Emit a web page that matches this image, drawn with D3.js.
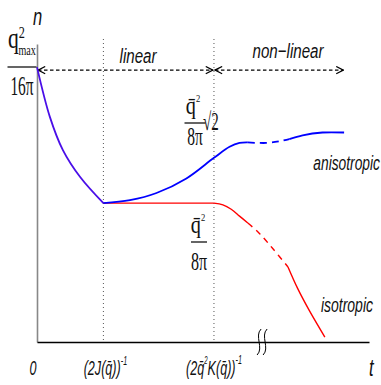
<!DOCTYPE html>
<html>
<head>
<meta charset="utf-8">
<script src="https://cdn.jsdelivr.net/npm/d3@7"></script>
<style>
  body { margin: 0; background: #fff; }
  text { fill: #111; }
  .sans { font-family: "Liberation Sans", Arial, sans-serif; font-style: italic; }
  .serif { font-family: "Liberation Serif", serif; }
</style>
</head>
<body>
<svg id="chart" width="381" height="385"></svg>
<script>
// time marks (t units) and the break on the time axis
var tTicks = [0, 20, 53.3]
var tBreak = 67.8

// anisotropic curve (blue)
var blueDecay = [[0, 100], [3.9, 81.8], [7.8, 69.8], [13, 60], [20, 50.5]]
var blueRise = [[20, 50.5], [28, 51.6], [36, 54.2], [45, 59.5], [53.3, 67], [58, 71], [61, 72.4], [63.5, 72.6]]
var blueDash = [[63.5, 72.6], [69, 72.4], [73, 73], [76, 73.8]]
var blueLate = [[76, 73.8], [80, 75.2], [86, 76.2], [92.5, 76.2]]

// isotropic curve (red)
var redFlat = [[20, 50.5], [53.3, 50.5]]
var redBend = [[53.3, 50.5], [56, 49.9], [58.5, 48.3], [61, 45.8], [63.5, 43.3]]
var redDash = [[63.5, 43.3], [67, 39.5], [71, 34], [75.6, 27.3]]
var redLate = [[75.6, 27.3], [78.5, 19.5], [82, 11.5], [86.7, 1.8]]

var dimensions = {
  width: 381,
  height: 385,
  margin: { top: 44, bottom: 43, left: 37, right: 12 }
}
dimensions.boundedWidth = dimensions.width - dimensions.margin.left - dimensions.margin.right
dimensions.boundedHeight = dimensions.height - dimensions.margin.top - dimensions.margin.bottom

var svg = d3.select("#chart")
var g = svg.append("g")
  .attr("transform", "translate(" + dimensions.margin.left + "," + dimensions.margin.top + ")")

var xScale = d3.scaleLinear().domain([0, 100]).range([0, dimensions.boundedWidth])
var yScale = d3.scaleLinear().domain([0, 108.4]).range([dimensions.boundedHeight, 0])

// dotted verticals at the two time scales
g.selectAll(".vline")
  .data(tTicks.slice(1))
  .enter()
  .append("line")
  .attr("x1", d => xScale(d)).attr("x2", d => xScale(d))
  .attr("y1", -5).attr("y2", dimensions.boundedHeight)
  .attr("stroke", "#555")
  .attr("stroke-width", 1)
  .attr("stroke-dasharray", "1,3")

// y axis (gray)
var yAxis = g.append("g").call(d3.axisLeft(yScale).tickValues([]).tickSizeOuter(0))
yAxis.select(".domain").attr("stroke", "#888").attr("stroke-width", 1.6)

// x axis (black)
var xAxis = g.append("g")
  .attr("transform", "translate(0," + dimensions.boundedHeight + ")")
  .call(d3.axisBottom(xScale).tickValues([]).tickSizeOuter(0))
xAxis.select(".domain").attr("stroke", "#000").attr("stroke-width", 1.6)

// break mark
var bx = xScale(tBreak), by = dimensions.boundedHeight
;[-3, 3].forEach(function (dx) {
  g.append("path")
    .attr("d", "M" + (bx + dx + 2) + "," + (by - 13) +
      " C" + (bx + dx - 5) + "," + (by - 6) + " " + (bx + dx + 5) + "," + (by + 6) + " " + (bx + dx - 2) + "," + (by + 13))
    .attr("fill", "none")
    .attr("stroke", "#000")
    .attr("stroke-width", 1)
})

// arrows for linear / non-linear regimes
var defs = svg.append("defs")
defs.append("marker")
  .attr("id", "chev").attr("viewBox", "0 0 10 10")
  .attr("refX", 9).attr("refY", 5)
  .attr("markerWidth", 9).attr("markerHeight", 9)
  .attr("markerUnits", "userSpaceOnUse")
  .attr("orient", "auto-start-reverse")
  .append("path")
  .attr("d", "M1,1 L9,5 L1,9")
  .attr("fill", "none").attr("stroke", "#000").attr("stroke-width", 1.4)

var arrowY = yScale(100) + 3
var regimes = [[0, tTicks[2]], [tTicks[2], 92.6]]
g.selectAll(".regime")
  .data(regimes)
  .enter()
  .append("line")
  .attr("x1", d => xScale(d[0]) + 1).attr("x2", d => xScale(d[1]) - 1)
  .attr("y1", arrowY).attr("y2", arrowY)
  .attr("stroke", "#000").attr("stroke-width", 1.2)
  .attr("stroke-dasharray", "3.5,2.5")
  .attr("marker-start", "url(#chev)")
  .attr("marker-end", "url(#chev)")

// curves
var line = d3.line()
  .x(d => xScale(d[0]))
  .y(d => yScale(d[1]))
  .curve(d3.curveCatmullRom)

var series = [
  { data: redFlat, color: "#ff0000", dash: null },
  { data: redBend, color: "#ff0000", dash: null },
  { data: redDash, color: "#ff0000", dash: "6,5" },
  { data: redLate, color: "#ff0000", dash: null },
  { data: blueDecay, color: "#4a0ee8", dash: null },
  { data: blueRise, color: "#0000ff", dash: null },
  { data: blueDash, color: "#0000ff", dash: "7,5" },
  { data: blueLate, color: "#0000ff", dash: null }
]
g.selectAll(".curve")
  .data(series)
  .enter()
  .append("path")
  .attr("d", d => line(d.data))
  .attr("fill", "none")
  .attr("stroke", d => d.color)
  .attr("stroke-width", d => d.color == "#ff0000" ? 1.4 : 1.8)
  .attr("stroke-dasharray", d => d.dash)

// condensed text helper (page coordinates)
function label(x, y, size, sx, cls, anchor, build) {
  var lg = svg.append("g").attr("transform", "translate(" + x + "," + y + ") scale(" + sx + ",1)")
  var t = lg.append("text").attr("class", cls).attr("text-anchor", anchor).attr("font-size", size)
  if (typeof build == "string") t.text(build)
  else build(t)
  return t
}

label(33, 25, 23, 0.72, "sans", "start", "n")
label(369, 376, 23, 0.72, "sans", "start", "t")
label(138, 63, 21, 0.72, "sans", "middle", "linear")
label(288, 58, 21, 0.72, "sans", "middle", "non\u2212linear")
label(380, 170, 20, 0.69, "sans", "end", "anisotropic")
label(373, 312, 20, 0.7, "sans", "end", "isotropic")

// fraction: bar plus condensed denominator; numerator placed with label()
function fraction(cx, barY, w, sx, size, denDy, bottom) {
  svg.append("line").attr("x1", cx - w / 2).attr("x2", cx + w / 2)
    .attr("y1", barY).attr("y2", barY)
    .attr("stroke", "#111").attr("stroke-width", 1.3)
  label(cx, barY + denDy, size, sx, "serif", "middle", bottom)
}

// q^2_max / 16 pi
fraction(22, 67, 29, 0.57, 27, 28, "16\u03c0")
label(8, 48, 30, 0.72, "serif", "start", function (t) {
  t.append("tspan").text("q")
  t.append("tspan").attr("font-size", 17).attr("dy", -10).text("2")
  t.append("tspan").attr("font-size", 14).attr("dx", -9).attr("dy", 17).text("max")
})

// qbar^2 / 8 pi * sqrt 2
fraction(195, 123, 21, 0.62, 25, 22, "8\u03c0")
label(193, 114, 26, 0.78, "serif", "middle", function (t) {
  t.append("tspan").text("q\u0304")
  t.append("tspan").attr("font-size", 11).attr("dy", -12).text("2")
})
label(203, 130, 25, 0.6, "serif", "start", "\u221a2")

// qbar^2 / 8 pi
fraction(199, 242, 16, 0.62, 26, 28, "8\u03c0")
label(198, 233, 26, 0.78, "serif", "middle", function (t) {
  t.append("tspan").text("q\u0304")
  t.append("tspan").attr("font-size", 11).attr("dy", -12).text("2")
})

// time tick labels
var tickLabels = [
  function (t) { t.text("0") },
  function (t) {
    t.append("tspan").text("(2J(q\u0304))")
    t.append("tspan").attr("font-size", 12).attr("dy", -10).text("-1")
  },
  function (t) {
    t.append("tspan").text("(2q\u0304")
    t.append("tspan").attr("font-size", 10).attr("dy", -11).text("2")
    t.append("tspan").attr("dy", 11).text("K(q\u0304))")
    t.append("tspan").attr("font-size", 12).attr("dy", -11).text("-1")
  }
]
tTicks.forEach(function (d, i) {
  var cx = dimensions.margin.left + xScale(d) + (i == 0 ? -4 : (i == 1 ? 2 : 0))
  label(cx, 375, 21, 0.6, "sans", "middle", tickLabels[i])
})
</script>
</body>
</html>
